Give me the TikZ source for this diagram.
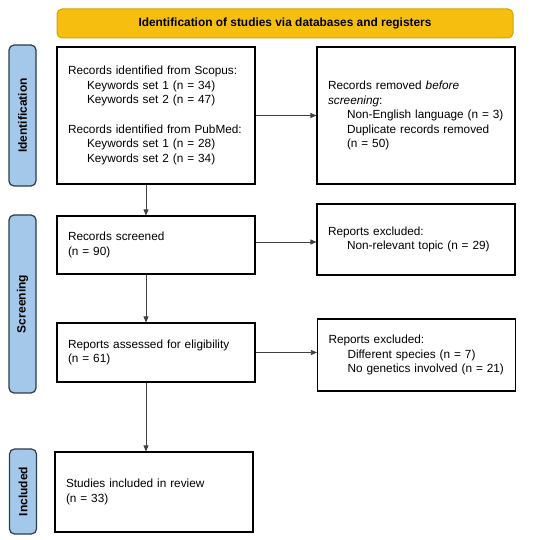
\documentclass[tikz,border=0pt]{standalone}
\usepackage{fontspec}
\setmainfont{Liberation Sans}
\usetikzlibrary{arrows.meta}
\definecolor{bannerfill}{HTML}{F6BF0F}
\definecolor{bannerline}{HTML}{D6A200}
\definecolor{sidefill}{HTML}{A4C8EA}
\definecolor{sideline}{HTML}{2E3B4A}

\begin{document}
\begin{tikzpicture}[x=1pt,y=-1pt,
	box/.style={draw,line width=1.1pt,minimum width=198pt,text width=176pt,inner xsep=11pt,align=left,font=\fontsize{11.8}{14.5}\selectfont},
	sidebar/.style={draw=sideline,fill=sidefill,line width=1.2pt,rounded corners=5pt,minimum height=27pt,rotate=90,font=\bfseries\fontsize{12}{14}\selectfont},
	arr/.style={-{Triangle[length=6pt,width=5pt]},draw=black!75,line width=0.7pt}]
	\useasboundingbox (0,0) rectangle (550,540);
	\node[draw=bannerline,fill=bannerfill,line width=1pt,rounded corners=5pt,minimum width=456pt,minimum height=29pt,font=\bfseries\fontsize{11.9}{14}\selectfont] (banner) at (285,23.5) {Identification of studies via databases and registers};
	\node[sidebar,minimum width=141pt] (idbar) at (22.5,115.5) {Identification};
	\node[sidebar,minimum width=178pt] (scrbar) at (22.5,304) {Screening};
	\node[sidebar,minimum width=85pt] (incbar) at (23,491.5) {Included};
	% boxes
	\node[box,minimum height=137pt] (ids) at (156,115.5) {Records identified from Scopus:\\\hspace*{19pt}Keywords set 1 (n = 34)\\\hspace*{19pt}Keywords set 2 (n = 47)\\[15pt]Records identified from PubMed:\\\hspace*{19pt}Keywords set 1 (n = 28)\\\hspace*{19pt}Keywords set 2 (n = 34)};
	\node[box,minimum height=137pt] (rem) at (416,115.5) {Records removed \textit{before}\\\textit{screening}:\\\hspace*{19pt}Non-English language (n = 3)\\\hspace*{19pt}Duplicate records removed\\\hspace*{19pt}(n = 50)};
	\node[box,minimum height=58pt] (scr) at (156,245) {Records screened\\(n = 90)};
	\node[box,minimum height=71pt] (exca) at (416,239.5) {Reports excluded:\\\hspace*{19pt}Non-relevant topic (n = 29)};
	\node[box,minimum height=59pt] (elig) at (156,352.5) {Reports assessed for eligibility\\(n = 61)};
	\node[box,minimum height=72pt] (excb) at (416.5,355) {Reports excluded:\\\hspace*{19pt}Different species (n = 7)\\\hspace*{19pt}No genetics involved (n = 21)};
	\node[box,minimum height=80pt] (inc) at (154,492) {Studies included in review\\(n = 33)};
	% arrows
	\draw[arr] (ids.east)--(rem.west);
	\draw[arr] ([yshift=3pt]scr.east)--([yshift=3pt]scr.east -| exca.west);
	\draw[arr] (elig.east)--(elig.east -| excb.west);
	\draw[arr] ([xshift=-10pt]ids.south)--([xshift=-10pt]ids.south |- scr.north);
	\draw[arr] ([xshift=-10pt]scr.south)--([xshift=-10pt]scr.south |- elig.north);
	\draw[arr] ([xshift=-10pt]elig.south)--([xshift=-10pt]elig.south |- inc.north);
\end{tikzpicture}
\end{document}
